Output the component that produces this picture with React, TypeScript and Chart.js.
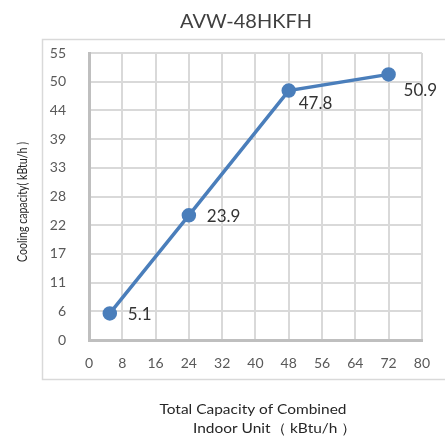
import React, { useEffect, useRef } from "react";
import { Chart, registerables } from "chart.js";

Chart.register(...registerables);

const chartTitle = "AVW-48HKFH";
const xValues = [5, 24, 48, 72];
const yValues = [5.1, 23.9, 47.8, 50.9];
const pointLabels = ["5.1", "23.9", "47.8", "50.9"];
const xTitleLines = ["Total Capacity of Combined", "Indoor Unit（ kBtu/h ）"];
const yTitle = "Cooling capacity( kBtu/h )";
const xMin = 0;
const xMax = 80;
const xStep = 8;
const yMin = 0;
const yMax = 55;
const yStep = 5.5;

const labelOffsets = [
  [18, 1],
  [18, 1],
  [10, 13],
  [15, 16],
];

const FONT = "Lato, 'Open Sans', sans-serif";

function fitText(ctx: any, text: string, x: number, y: number, width: number) {
  const w = ctx.measureText(text).width;
  ctx.save();
  ctx.translate(x, y);
  ctx.scale(width / w, 1);
  ctx.textAlign = "center";
  ctx.fillText(text, 0, 0);
  ctx.restore();
  return width / w;
}

const decorPlugin = {
  id: "decor",
  beforeDraw(chart: any) {
    const ctx = chart.ctx;
    ctx.save();
    ctx.fillStyle = "#ffffff";
    ctx.fillRect(0, 0, chart.width, chart.height);
    ctx.strokeStyle = "#d9d9d9";
    ctx.lineWidth = 1.5;
    ctx.strokeRect(42.5, 39.5, 420, 340);
    ctx.restore();
  },
  afterDraw(chart: any) {
    const ctx = chart.ctx;
    ctx.save();
    // Title
    ctx.fillStyle = "#404040";
    ctx.font = `19px ${FONT}`;
    ctx.textBaseline = "middle";
    fitText(ctx, chartTitle, 246, 22, 132);

    // X axis title
    ctx.fillStyle = "#262626";
    ctx.font = `14px ${FONT}`;
    const k = fitText(ctx, xTitleLines[0], 253, 409, 187);
    ctx.save();
    ctx.translate(193, 428);
    ctx.scale(k, 1);
    ctx.textAlign = "left";
    ctx.fillText(xTitleLines[1], 0, 0);
    ctx.restore();

    // Y axis title (condensed)
    ctx.fillStyle = "#ffffff";
    ctx.fillRect(12, 138, 24, 128);
    ctx.translate(23, 202);
    ctx.rotate(-Math.PI / 2);
    ctx.font = `13px ${FONT}`;
    ctx.fillStyle = "#262626";
    ctx.textBaseline = "middle";
    fitText(ctx, yTitle, 0, 0, 120);
    ctx.restore();
  },
  afterDatasetsDraw(chart: any) {
    const ctx = chart.ctx;
    const meta = chart.getDatasetMeta(0);
    ctx.save();
    ctx.fillStyle = "#333333";
    ctx.font = `17px ${FONT}`;
    ctx.textAlign = "left";
    ctx.textBaseline = "middle";
    meta.data.forEach((pt: any, i: number) => {
      const off = labelOffsets[i] || [15, 0];
      ctx.fillText(pointLabels[i], pt.x + off[0], pt.y + off[1]);
    });
    ctx.restore();
  },
};

export default function App() {
  const canvasRef = useRef<HTMLCanvasElement | null>(null);

  useEffect(() => {
    if (!canvasRef.current) return;
    const chart = new Chart(canvasRef.current, {
      type: "line",
      data: {
        datasets: [
          {
            data: xValues.map((x, i) => ({ x, y: yValues[i] })),
            borderColor: "#4a7ebb",
            backgroundColor: "#4a7ebb",
            borderWidth: 3.5,
            pointRadius: 5.5,
            pointBackgroundColor: "#4a7ebb",
            pointBorderColor: "#4a7ebb",
            tension: 0,
            fill: false,
          },
        ],
      },
      options: {
        responsive: false,
        animation: false,
        layout: { padding: { left: 0, right: 22, top: 53, bottom: 57 } },
        plugins: {
          legend: { display: false },
          title: { display: false },
          tooltip: { enabled: false },
        },
        scales: {
          x: {
            type: "linear",
            min: xMin,
            max: xMax,
            afterFit: (s: any) => {
              s.height = 40;
            },
            ticks: {
              stepSize: xStep,
              color: "#595959",
              font: { family: FONT, size: 14 },
              padding: 15,
              maxRotation: 0,
            },
            grid: { color: "#d9d9d9", lineWidth: 2, drawTicks: false },
            border: { color: "#bfbfbf", width: 3 },
          },
          y: {
            type: "linear",
            min: yMin,
            max: yMax,
            afterFit: (s: any) => {
              s.width = 89;
            },
            ticks: {
              stepSize: yStep,
              color: "#595959",
              font: { family: FONT, size: 14 },
              padding: 23,
              callback: (v: any) => String(Math.round(Number(v))),
            },
            grid: { color: "#d9d9d9", lineWidth: 2, drawTicks: false },
            border: { color: "#bfbfbf", width: 3 },
          },
        },
      },
      plugins: [decorPlugin],
    });
    return () => chart.destroy();
  }, []);

  return (
    <div style={{ position: "fixed", left: 0, top: 0, width: 445, height: 437 }}>
      <canvas ref={canvasRef} width={445} height={437} style={{ width: 445, height: 437 }} />
    </div>
  );
}
